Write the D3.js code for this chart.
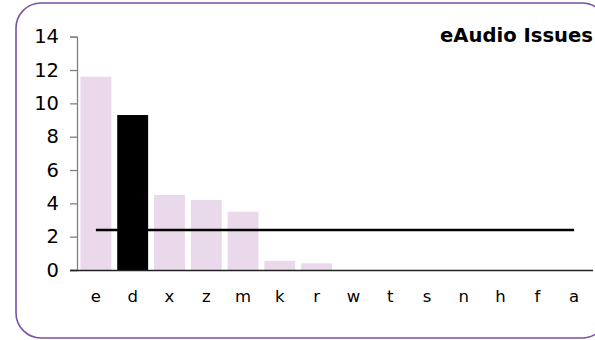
<!DOCTYPE html>
<html>
<head>
<meta charset="utf-8">
<script src="https://cdn.jsdelivr.net/npm/d3@7"></script>
<style>
html,body{margin:0;padding:0;background:#fff;}
svg{display:block;}
text{font-family:"DejaVu Sans",Verdana,sans-serif;}
</style>
</head>
<body>
<svg id="chart" width="595" height="340"></svg>
<script>
const categories = ["e","d","x","z","m","k","r","w","t","s","n","h","f","a"];
const issues = [11.6, 9.3, 4.5, 4.2, 3.5, 0.55, 0.4, 0, 0, 0, 0, 0, 0, 0];
const average = [2.4, 2.4, 2.4, 2.4, 2.4, 2.4, 2.4, 2.4, 2.4, 2.4, 2.4, 2.4, 2.4, 2.4];
const highlighted = ["d"];
const yTicks = [0, 2, 4, 6, 8, 10, 12, 14];
const title = "eAudio Issues";

const svg = d3.select("#chart");

// outer rounded frame
svg.append("rect")
  .attr("x", 16).attr("y", 3)
  .attr("width", 591).attr("height", 335)
  .attr("rx", 25).attr("ry", 25)
  .attr("fill", "#fff")
  .attr("stroke", "#7b4fa3")
  .attr("stroke-width", 1.6);

const x = d3.scaleBand().domain(categories).range([77.5, 592.5]).paddingInner(0.16).paddingOuter(0.08);
const y = d3.scaleLinear().domain([0, 14]).range([270, 36.7]);

// bars
svg.append("g").selectAll("rect").data(categories).join("rect")
  .attr("x", d => x(d))
  .attr("width", x.bandwidth())
  .attr("y", (d, i) => y(issues[i]))
  .attr("height", (d, i) => y(0) - y(issues[i]))
  .attr("fill", d => highlighted.includes(d) ? "#000" : "#ead8eb");

// y axis
const yAxis = svg.append("g").attr("transform", "translate(77,0)")
  .call(d3.axisLeft(y).tickValues(yTicks).tickSize(7).tickPadding(11).tickFormat(d3.format("d")));
yAxis.select(".domain").attr("stroke", "#808080").attr("stroke-width", 1.3);
yAxis.selectAll(".tick line").attr("stroke", "#808080").attr("stroke-width", 1.3);
yAxis.selectAll("text").attr("font-size", 19.5).attr("fill", "#000")
  .attr("font-family", "DejaVu Sans");

// x axis
const xAxis = svg.append("g").attr("transform", "translate(0,270)")
  .call(d3.axisBottom(x).tickSize(0).tickPadding(20));
xAxis.select(".domain").attr("d", "M70,0.5H593").attr("stroke", "#222").attr("stroke-width", 1.3);
xAxis.selectAll("text").attr("font-size", 16.5).attr("fill", "#000")
  .attr("font-family", "DejaVu Sans");

// average line
const line = d3.line()
  .x((d, i) => x(categories[i]) + x.bandwidth() / 2)
  .y(d => y(d));
svg.append("path").datum(average)
  .attr("d", line)
  .attr("fill", "none")
  .attr("stroke", "#000")
  .attr("stroke-width", 2.5);

// title
svg.append("text")
  .attr("x", 593).attr("y", 42)
  .attr("text-anchor", "end")
  .attr("font-size", 19.6)
  .attr("font-weight", "bold")
  .attr("fill", "#000")
  .text(title);
</script>
</body>
</html>
